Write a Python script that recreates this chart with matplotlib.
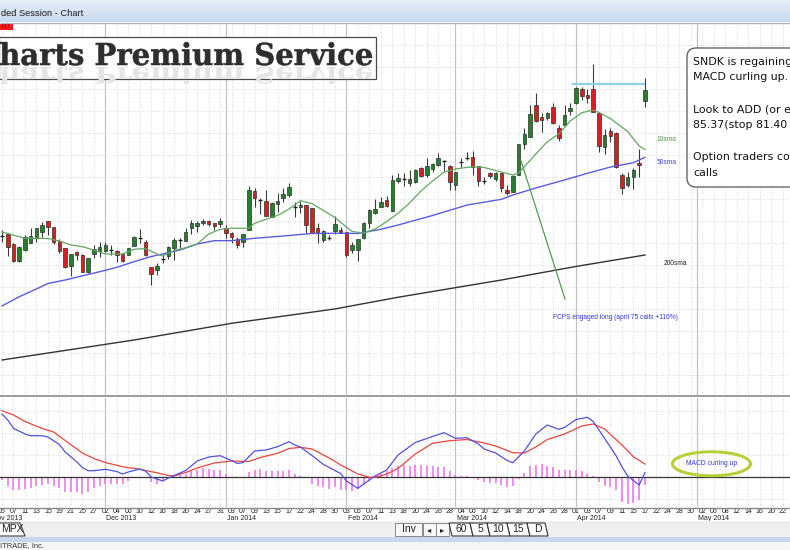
import numpy as np
import matplotlib

matplotlib.use("Agg")
import matplotlib.pyplot as plt
from matplotlib.colors import LinearSegmentedColormap
from matplotlib.font_manager import FontProperties
from matplotlib.patches import Ellipse, FancyBboxPatch, PathPatch, Polygon, Rectangle
from matplotlib.textpath import TextPath
from matplotlib.transforms import Affine2D, blended_transform_factory

# daily candles, trading day 0 = 05 Nov 2013 ... 112 = 17 Apr 2014
opens = [68.24, 68.48, 67.35, 65.45, 66.70, 67.53, 68.03, 68.78, 70.00, 69.28,
         67.72, 66.89, 64.92, 66.51, 66.13, 64.23, 66.25, 66.62, 66.62, 66.78,
         66.62, 66.25, 66.13, 67.19, 68.06, 67.58, 64.73, 64.43, 65.64, 66.02,
         66.89, 67.72, 67.76, 69.17, 69.46, 69.73, 70.03, 69.73, 69.62, 69.23,
         68.67, 67.92, 67.58, 68.97, 73.44, 72.38, 72.30, 70.48, 71.89, 72.58,
         72.95, 71.64, 71.62, 71.81, 71.47, 69.20, 67.84, 68.14, 68.86, 68.97,
         68.69, 66.70, 66.70, 68.03, 69.77, 70.94, 71.62, 72.38, 71.17, 74.58,
         74.80, 74.37, 74.46, 75.98, 75.17, 75.87, 76.36, 76.87, 76.30, 74.09,
         76.76, 77.10, 77.30, 76.25, 74.60, 75.48, 74.73, 75.45, 73.52, 73.33,
         75.22, 78.75, 79.58, 83.18, 81.78, 81.67, 82.98, 80.60, 80.91, 82.53,
         83.44, 85.00, 84.31, 85.03, 82.23, 78.41, 80.26, 80.03, 75.22, 74.09,
         75.03, 76.62, 83.67]
highs = [68.97, 68.63, 67.44, 67.16, 68.41, 69.17, 69.23, 69.92, 70.05, 69.31,
         67.92, 66.93, 66.30, 66.59, 66.19, 65.79, 67.27, 67.64, 67.64, 67.27,
         66.70, 66.30, 66.93, 68.29, 69.05, 67.84, 64.77, 65.19, 66.13, 67.16,
         68.03, 68.03, 69.23, 70.11, 70.03, 70.22, 70.08, 69.77, 70.30, 69.54,
         68.75, 68.21, 68.52, 73.97, 73.71, 72.58, 73.52, 72.12, 73.14, 73.71,
         74.28, 72.19, 72.30, 71.87, 71.53, 69.77, 68.92, 68.41, 70.62, 69.35,
         68.75, 67.64, 67.95, 69.92, 71.33, 72.52, 72.69, 72.84, 75.22, 75.42,
         75.42, 75.83, 75.87, 76.17, 77.12, 76.55, 77.76, 76.93, 76.36, 75.56,
         77.12, 77.87, 77.95, 76.28, 75.00, 75.62, 75.60, 75.49, 74.09, 75.17,
         78.80, 80.53, 83.18, 84.51, 82.23, 82.42, 83.37, 80.91, 83.18, 83.37,
         85.26, 85.19, 84.96, 87.84, 82.42, 80.45, 80.53, 80.14, 75.42, 75.60,
         75.98, 78.14, 86.21]
lows = [67.61, 66.02, 65.39, 65.39, 66.59, 67.46, 67.58, 68.21, 68.41, 67.38,
        66.33, 64.62, 63.75, 65.56, 64.20, 64.05, 65.76, 65.94, 66.51, 66.13,
        65.37, 65.37, 66.08, 67.16, 67.46, 66.02, 62.72, 63.86, 65.19, 65.64,
        65.56, 66.89, 67.72, 68.48, 68.78, 69.54, 69.43, 68.97, 69.35, 68.03,
        67.46, 66.96, 67.08, 68.92, 71.62, 70.76, 70.56, 70.45, 71.05, 72.19,
        72.76, 70.48, 70.87, 68.63, 68.58, 67.46, 67.64, 67.84, 68.52, 68.60,
        65.94, 66.33, 65.48, 67.92, 69.20, 70.83, 71.55, 71.62, 71.13, 74.28,
        74.03, 74.03, 74.35, 75.00, 75.05, 75.60, 76.28, 75.68, 73.52, 73.52,
        76.17, 76.93, 75.22, 73.97, 74.20, 74.94, 74.58, 73.33, 72.95, 73.29,
        75.17, 78.14, 79.54, 81.28, 80.14, 81.47, 81.05, 79.12, 80.85, 82.04,
        83.35, 83.75, 83.44, 82.35, 77.84, 77.61, 79.01, 75.98, 73.06, 73.89,
        73.60, 75.03, 82.98]
closes = [68.29, 67.08, 65.45, 67.08, 68.14, 68.29, 69.17, 69.54, 69.35, 67.64,
          66.62, 64.73, 66.25, 66.13, 64.23, 65.76, 66.81, 67.08, 67.27, 66.70,
          66.13, 65.48, 66.89, 68.21, 68.01, 66.13, 63.97, 64.88, 65.71, 67.08,
          67.84, 67.78, 68.78, 69.73, 69.73, 70.00, 69.62, 69.46, 70.03, 68.60,
          68.14, 67.27, 68.48, 73.52, 72.58, 72.33, 70.60, 72.08, 72.27, 73.06,
          73.83, 71.59, 71.81, 69.54, 68.60, 68.78, 68.86, 68.09, 69.66, 68.71,
          66.08, 67.27, 67.92, 69.73, 71.30, 71.36, 72.12, 71.73, 74.66, 74.85,
          74.75, 74.77, 75.79, 75.08, 76.30, 76.42, 77.19, 76.81, 74.46, 75.53,
          76.70, 77.16, 76.10, 74.58, 74.54, 75.11, 75.42, 73.71, 73.21, 75.11,
          78.75, 79.88, 82.16, 81.39, 81.47, 82.23, 81.10, 79.39, 82.04, 82.80,
          85.08, 84.17, 84.01, 82.42, 78.48, 79.77, 79.71, 76.17, 73.71, 74.96,
          75.79, 76.36, 84.92]

# moving averages (trading-day index, price)
sma10_idx = [0, 4, 8, 10, 12, 14, 16, 18, 21, 23, 25, 27, 28, 30, 32, 34, 36, 38, 40, 43,
             44, 46, 48, 50, 52, 54, 56, 58, 60, 61, 63, 65, 67, 69, 71, 73, 75, 77, 79, 82,
             84, 87, 89, 90, 93, 95, 97, 99, 101, 103, 104, 106, 109, 111, 112]
sma10 = [68.75, 68.03, 68.01, 67.72, 67.27, 67.08, 66.70, 66.25, 66.25, 66.78,
         66.87, 66.25, 66.02, 66.64, 66.96, 67.38, 68.52, 69.05, 69.17, 69.17,
         69.73, 70.19, 70.62, 71.36, 72.30, 71.98, 71.19, 70.39, 69.31, 68.80,
         68.63, 69.09, 69.92, 70.87, 72.04, 73.41, 74.54, 75.54, 75.91, 76.17,
         76.08, 75.56, 75.22, 75.45, 77.61, 79.01, 79.88, 81.36, 82.30, 82.61,
         82.33, 81.64, 80.17, 78.52, 78.14]
sma50_idx = [0, 3, 6, 8, 11, 15, 17, 20, 23, 26, 28, 31, 34, 37, 40, 44, 49, 54, 58, 62,
             66, 69, 75, 81, 87, 89, 93, 98, 102, 106, 110, 112]
sma50 = [60.34, 61.39, 62.27, 62.89, 63.29, 63.92, 64.23, 64.73, 65.37, 65.96,
         66.25, 66.70, 67.38, 67.76, 67.76, 68.03, 68.29, 68.58, 68.60, 68.58,
         69.05, 69.54, 70.62, 71.81, 72.46, 72.95, 73.75, 74.66, 75.42, 76.13,
         76.62, 77.23]
sma200_idx = [0, 23, 40, 58, 69, 87, 100, 112]
sma200 = [54.20, 56.47, 58.37, 60.00, 61.33, 63.29, 64.83, 66.13]

# MACD panel
macd_idx = [0, 1, 2, 4, 5, 7, 8, 10, 11, 13, 14, 15, 16, 18, 20, 21, 22, 24, 25, 26,
            28, 29, 32, 34, 36, 38, 40, 41, 42, 44, 46, 48, 50, 51, 52, 54, 56, 59, 60, 62,
            63, 65, 67, 69, 72, 75, 77, 79, 81, 83, 84, 86, 88, 89, 91, 93, 95, 97, 98, 100,
            102, 103, 105, 107, 108, 109, 111, 112]
macd = [3.15, 2.85, 2.435, 2.15, 2.065, 2.065, 2.0, 1.625, 1.25, 0.765,
        0.475, 0.315, 0.315, 0.385, 0.275, 0.15, 0.25, 0.40, 0.30, 0.0,
        -0.20, -0.05, 0.325, 0.80, 1.00, 1.065, 0.825, 0.675, 0.725, 1.30,
        1.35, 1.515, 1.765, 1.60, 1.50, 1.075, 0.625, 0.175, -0.20, -0.565,
        -0.35, 0.05, 0.35, 1.10, 1.725, 2.025, 2.215, 1.935, 1.965, 1.65,
        1.40, 1.20, 0.825, 0.715, 1.30, 2.15, 2.60, 2.385, 2.475, 2.875,
        2.985, 2.775, 1.925, 1.05, 0.515, 0.05, -0.40, 0.215]
signal_idx = [0, 2, 4, 7, 9, 11, 14, 16, 18, 21, 24, 27, 29, 30, 32, 34, 37, 40, 43, 45,
              48, 50, 52, 54, 57, 59, 62, 64, 65, 67, 69, 72, 75, 78, 81, 84, 86, 89, 91, 93,
              95, 98, 101, 103, 105, 108, 110, 112]
signal = [3.315, 3.10, 2.775, 2.425, 2.25, 1.825, 1.20, 0.925, 0.725, 0.515,
          0.385, 0.21, 0.075, 0.05, 0.225, 0.45, 0.70, 0.80, 0.775, 0.975,
          1.185, 1.425, 1.485, 1.40, 0.95, 0.60, 0.15, -0.015, -0.015, 0.15,
          0.425, 1.15, 1.685, 1.815, 1.875, 1.70, 1.55, 1.215, 1.20, 1.50,
          1.875, 2.15, 2.55, 2.65, 2.40, 1.60, 1.015, 0.65]
hist = [-0.165, -0.465, -0.665, -0.665, -0.60, -0.55, -0.465, -0.385, -0.335, -0.465,
        -0.55, -0.75, -0.75, -0.75, -0.835, -0.75, -0.55, -0.465, -0.335, -0.335,
        -0.335, -0.335, -0.215, -0.05, 0.0, -0.05, -0.265, -0.335, -0.165, -0.05,
        0.065, 0.115, 0.165, 0.285, 0.365, 0.45, 0.40, 0.335, 0.335, 0.165,
        0.0, -0.05, -0.05, 0.235, 0.365, 0.40, 0.285, 0.285, 0.285, 0.285,
        0.335, 0.165, 0.035, 0.0, -0.335, -0.465, -0.50, -0.60, -0.50, -0.665,
        -0.665, -0.715, -0.60, -0.385, -0.215, 0.065, 0.165, 0.30, 0.45, 0.565,
        0.615, 0.565, 0.615, 0.615, 0.565, 0.535, 0.50, 0.50, 0.285, 0.115,
        0.065, 0.065, 0.0, -0.165, -0.265, -0.30, -0.30, -0.385, -0.50, -0.435,
        -0.10, 0.20, 0.535, 0.615, 0.665, 0.565, 0.50, 0.335, 0.335, 0.365,
        0.335, 0.285, 0.165, 0.035, -0.265, -0.435, -0.50, -0.665, -1.265, -1.335,
        -1.30, -1.165, -0.385]

# date axis: a label every second trading day, months at their first session
day_labels = ["05", "07", "11", "13", "15", "19", "21", "25", "27",
              "02", "04", "06", "10", "12", "16", "18", "20", "24", "27", "31",
              "03", "07", "09", "13", "15", "17", "22", "24", "28", "30",
              "03", "05", "07", "11", "13", "18", "20", "24", "26", "28",
              "04", "06", "10", "12", "14", "18", "20", "24", "26", "28",
              "01", "03", "07", "09", "11", "15", "17", "22", "24", "28", "30",
              "02", "06", "08", "12", "14", "16", "20", "22"]
month_labels = ["Nov 2013", "Dec 2013", "Jan 2014", "Feb 2014", "Mar 2014", "Apr 2014", "May 2014"]
month_idx = [-2, 18, 39, 60, 79, 100, 121]

resistance = 85.55
resist_span = (99.3, 112.0)
fcps_line = ([90.37, 98.08], [76.93, 61.13])

note_lines = [("SNDK is regaining", 61.7), ("MACD curling up.", 76.7),
              ("Look to ADD (or e", 110.0), ("85.37(stop 81.40", 125.0),
              ("Option traders co", 156.7), ("calls", 172.7)]

W, H = 790, 550
XLIM = (-0.35, 137.28)
LAB = "Liberation Sans"

fig = plt.figure(figsize=(W / 100, H / 100), dpi=100)
fig.patch.set_facecolor("white")


def band(top, bottom):
    return [0, 1 - bottom / H, 1, (bottom - top) / H]


ax = fig.add_axes(band(23, 395))
axm = fig.add_axes(band(397.5, 507))
ov = fig.add_axes([0, 0, 1, 1], zorder=10)


def setup(a, yticks, ylim):
    # ticks first: set_xticks/set_yticks would otherwise widen the view limits
    a.set_xticks(np.arange(0, 138, 2))
    a.set_yticks(yticks)
    a.set_xlim(*XLIM)
    a.set_ylim(*ylim)
    a.grid(True, linestyle=(0, (1, 2)), color="#cdcdcd", linewidth=0.6)
    a.tick_params(length=0, labelbottom=False, labelleft=False)
    for s in a.spines.values():
        s.set_visible(False)
    for m in month_idx:
        a.axvline(m, color="#c2c2c2", linewidth=0.9, zorder=1)
    a.set_axisbelow(True)


# ---- price panel ----
setup(ax, np.arange(52.5, 92.5, 2.5), (50.22, 92.50))

x = np.arange(len(opens))
o = np.array(opens)
c = np.array(closes)
up = c >= o
lo = np.minimum(o, c)
hgt = np.abs(c - o)
doji = hgt < 0.09
ax.vlines(x, lows, highs, color="#3a3a3a", linewidth=0.8, zorder=3)
cols = np.where(up, "#23812a", "#d81e1e")
ax.bar(x[~doji], hgt[~doji], bottom=lo[~doji], width=0.62, color=cols[~doji],
       edgecolor="#303030", linewidth=0.5, zorder=4)
ax.hlines(c[doji], x[doji] - 0.33, x[doji] + 0.33, color="#222222", linewidth=1.0, zorder=4)

ax.plot(sma200_idx, sma200, color="#333333", linewidth=1.0, zorder=5)
ax.plot(sma50_idx, sma50, color="#5b5be0", linewidth=1.0, zorder=5)
ax.plot(sma10_idx, sma10, color="#62a862", linewidth=0.9, zorder=5)
ax.hlines(resistance, *resist_span, color="#8ed2ea", linewidth=1.6, zorder=5)
ax.plot(*fcps_line, color="#4f9f4f", linewidth=0.9, zorder=5)

ax.text(114.1, 79.31, "10sma", color="#4a9a4a", fontsize=4.8, family=LAB, va="center")
ax.text(114.1, 76.59, "50sma", color="#4444dd", fontsize=4.8, family=LAB, va="center")
ax.text(115.2, 65.22, "200sma", color="#222222", fontsize=4.8, family=LAB, va="center")
ax.text(96.0, 58.98, "FCPS engaged long (april 75 calls +116%)", color="#3636dd",
        fontsize=4.8, family=LAB, va="center")

# ---- MACD panel ----
setup(axm, [-1.1, 1.1, 2.2, 3.3], (-1.5, 3.975))
axm.vlines(x, 0, hist, color="#ee6cee", linewidth=1.1, zorder=3)
axm.axhline(0, color="#333333", linewidth=0.9, zorder=4)
axm.plot(signal_idx, signal, color="#e8453c", linewidth=0.9, zorder=5)
axm.plot(macd_idx, macd, color="#5050e0", linewidth=0.9, zorder=5)
axm.add_patch(Ellipse((123.6, 0.66), 13.6, 1.2, fill=False, edgecolor="#b4d236",
                      linewidth=2.2, zorder=6))
axm.text(123.6, 0.66, "MACD curling up", color="#3a3ad8", fontsize=4.9, family=LAB,
         ha="center", va="center", zorder=7)

# ---- window chrome in pixel coordinates ----
grad = np.linspace(0, 1, 22).reshape(-1, 1)
bar_cmap = LinearSegmentedColormap.from_list("bar", ["#e3edf8", "#c9daed"])
ov.imshow(grad, extent=(0, W, 22, 0), cmap=bar_cmap, aspect="auto", zorder=1)
ov.set_xlim(0, W)
ov.set_ylim(H, 0)
ov.axis("off")
ov.hlines(22.5, 0, W, color="#a6b6c8", linewidth=1)
ov.text(1, 14, "ded Session - Chart", fontsize=6.7, family=LAB, color="#1e1e1e", va="center")
ov.add_patch(Rectangle((0, 23.5), 13, 6.5, facecolor="#ff1a1a", edgecolor="none"))
ov.text(1, 26.8, "4.17", fontsize=3.6, family=LAB, color="#7a0000", va="center")

# banner
box = Rectangle((-1, 37), 377, 42, facecolor="white", edgecolor="#4a4a4a", linewidth=0.9, zorder=5)
ov.add_patch(box)
fp = FontProperties(family="DejaVu Serif", weight="bold")
tp_full = TextPath((0, 0), "Charts Premium Service", size=1, prop=fp)
tp_tail = TextPath((0, 0), "harts Premium Service", size=1, prop=fp)
ef, et = tp_full.get_extents(), tp_tail.get_extents()
sx = 372 / et.width
sy = 22 / 0.729
x0 = -sx * ((ef.x1 - et.x1) + et.x0)
refl = PathPatch(tp_full, transform=Affine2D().scale(sx, sy * 0.75).translate(x0, 67) + ov.transData,
                 facecolor="#e4e4e4", edgecolor="none", zorder=6)
refl.set_clip_path(box)
ov.add_patch(refl)
ov.add_patch(PathPatch(tp_full, transform=Affine2D().scale(sx, -sy).translate(x0, 65) + ov.transData,
                       facecolor="#2e2e2e", edgecolor="#2e2e2e", linewidth=0.4, zorder=7))

# note box at the right
ov.add_patch(FancyBboxPatch((687, 48), 140, 139, boxstyle="round,pad=0,rounding_size=9",
                            facecolor="white", edgecolor="#555555", linewidth=0.9, zorder=5))
for txt, yy in note_lines:
    ov.text(693, yy, txt, fontsize=7.9, family="DejaVu Sans", color="#111111", va="center", zorder=6)

# panel separator and bottom border
ov.add_patch(Rectangle((0, 395), W, 2.3, facecolor="#9c9c9c", edgecolor="none", zorder=3))
ov.hlines(507.5, 0, W, color="#8a8a8a", linewidth=1, zorder=3)

# date labels
tr = blended_transform_factory(axm.transData, ov.transData)
for k, lab in enumerate(day_labels):
    fig.text(2 * k, 511.5, lab, transform=tr, fontsize=5, family=LAB, color="#222222",
             ha="center", va="center")
for m, lab in zip(month_idx, month_labels):
    fig.text(m + 0.2, 518.8, lab, transform=tr, fontsize=5, family=LAB, color="#222222",
             ha="left", va="center")

# toolbar
ov.add_patch(Rectangle((0, 521), W, 16, facecolor="#efefef", edgecolor="none", zorder=2))
ov.add_patch(Rectangle((0, 537), W, 4.5, facecolor="#c6d8ee", edgecolor="none", zorder=2))
ov.add_patch(Rectangle((0, 541.5), W, 9, facecolor="#f5f5f5", edgecolor="none", zorder=2))
ov.text(0, 546, "ITRADE, Inc.", fontsize=5.4, family=LAB, color="#333333", va="center", zorder=3)

ov.add_patch(Polygon([(-2, 523), (20, 523), (25, 536), (-2, 536)], closed=True,
                     facecolor="white", edgecolor="#444444", linewidth=0.8, zorder=3))
ov.text(1, 529.5, "MPX", fontsize=7.5, family=LAB, color="#222222", va="center", zorder=4)

ov.add_patch(Rectangle((395, 523), 27, 13, facecolor="#f7f7f7", edgecolor="#888888", linewidth=0.7, zorder=3))
ov.text(408.5, 529.5, "Inv", fontsize=7.5, family=LAB, color="#222222", ha="center", va="center", zorder=4)
for bx, glyph in [(423, "\u25c2"), (436, "\u25b8")]:
    ov.add_patch(Rectangle((bx, 523), 13, 13, facecolor="#f7f7f7", edgecolor="#888888", linewidth=0.7, zorder=3))
    ov.text(bx + 6.5, 529.5, glyph, fontsize=6, family="DejaVu Sans", color="#222222",
            ha="center", va="center", zorder=4)
tabs = [("60", 449, 470), ("5", 470, 487), ("10", 487, 507), ("15", 507, 527), ("D", 527, 545)]
for lab, t0, t1 in tabs:
    ov.add_patch(Polygon([(t0, 523), (t1, 523), (t1 + 3, 536), (t0 + 3, 536)], closed=True,
                         facecolor="white", edgecolor="#333333", linewidth=0.8, zorder=3))
    ov.text((t0 + t1) / 2 + 1.5, 529.5, lab, fontsize=7.5, family=LAB, color="#222222",
            ha="center", va="center", zorder=4)

fig.savefig("out.png", dpi=100)
